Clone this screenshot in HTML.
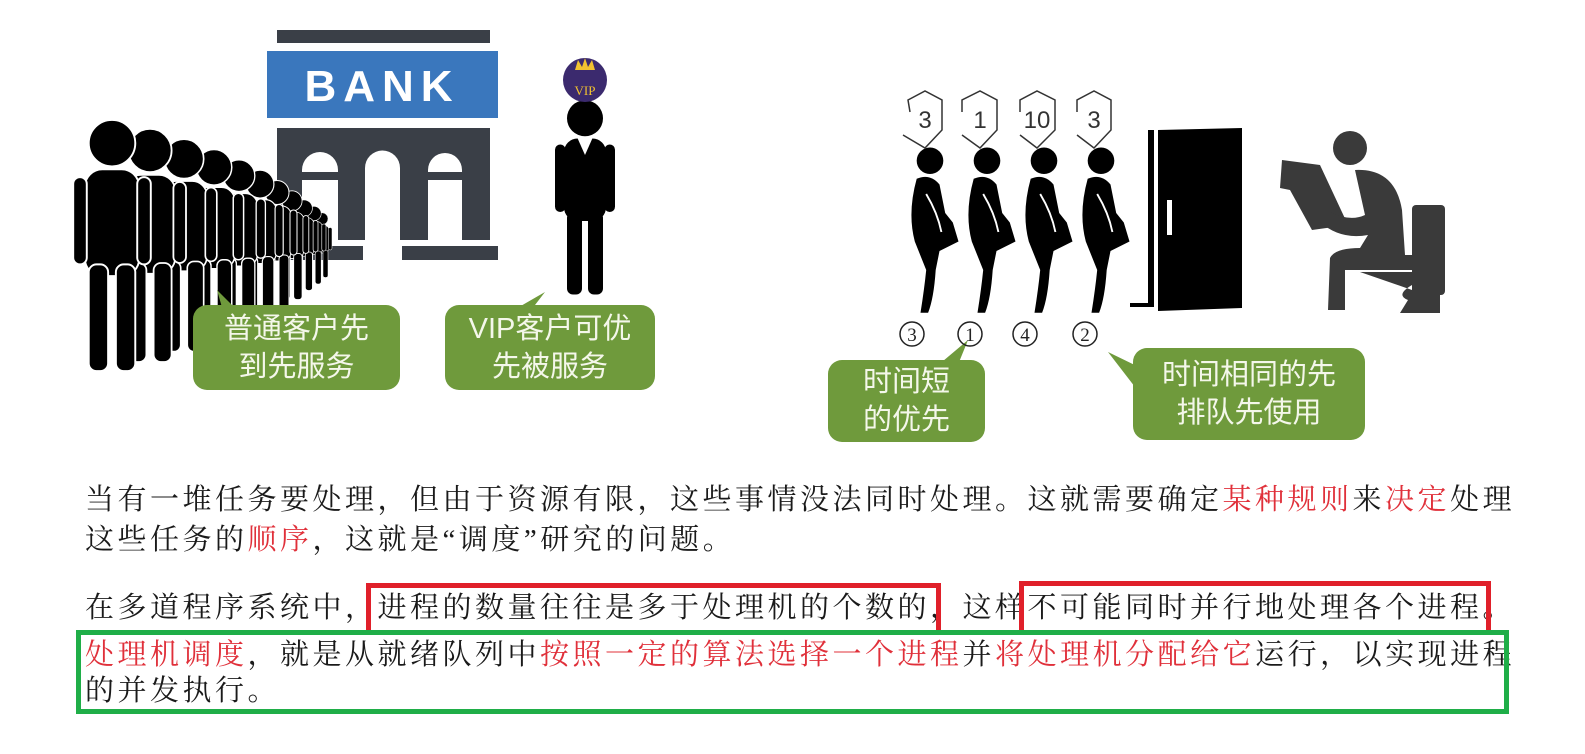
<!DOCTYPE html>
<html><head><meta charset="utf-8"><style>
body{margin:0;width:1585px;height:754px;background:#fff;overflow:hidden;position:relative;font-family:"Liberation Serif","Noto Serif CJK SC",serif}
.t{position:absolute;left:85px;font-size:29px;letter-spacing:3.5px;color:#1a1a1a;white-space:nowrap;line-height:34px}
.r{color:#e0303a}
.bub{position:absolute;background:#6f9a3c;border-radius:14px;color:#f4f7ea;font-family:"Liberation Sans","Noto Sans CJK SC",sans-serif;font-size:29px;line-height:38px;text-align:center;display:flex;align-items:center;justify-content:center}
.box{position:absolute;box-sizing:border-box}
</style></head><body>
<svg width="1585" height="460" style="position:absolute;left:0;top:0">
<defs>
<g id="p"><circle cx="0" cy="-105" r="24"/><rect x="-28" y="-78" width="56" height="110" rx="18"/><rect x="-40" y="-70" width="14" height="90" rx="7"/><rect x="26" y="-70" width="14" height="90" rx="7"/><rect x="-24" y="20" width="20" height="110" rx="8"/><rect x="4" y="20" width="20" height="110" rx="8"/></g>
<g id="w"><circle cx="0" cy="-75" r="14"/><path d="M-14 -56 Q0 -62 10 -50 L16 -20 L24 -10 L30 10 L10 20 L6 40 Q4 70 -2 85 L-10 85 Q-6 60 -4 40 L-16 10 Q-24 -20 -14 -56Z"/><path d="M-4 -40 Q8 -20 12 0" stroke="#fff" stroke-width="2" fill="none"/></g>
</defs>
<!-- bank -->
<rect x="277" y="30" width="213" height="13" fill="#3a3f47"/>
<rect x="267" y="51" width="231" height="67" fill="#3a77bd"/>
<text x="382" y="101" fill="#fff" font-family="Liberation Sans" font-weight="bold" font-size="44" letter-spacing="7" text-anchor="middle">BANK</text>
<rect x="277" y="128" width="213" height="112" fill="#3a3f47"/>
<path d="M302 172V170a18 18 0 0136 0V172Z M428 172V170a17 17 0 0134 0V172Z" fill="#fff"/>
<rect x="302" y="180" width="36" height="60" fill="#fff"/>
<rect x="428" y="180" width="34" height="60" fill="#fff"/>
<path d="M365 247V168a17.5 17.5 0 0135 0V247Z" fill="#fff"/>
<rect x="267" y="246" width="96" height="14" fill="#3a3f47"/>
<rect x="402" y="246" width="96" height="14" fill="#3a3f47"/>
<!-- queue -->
<g fill="#000" stroke="#fff" stroke-width="2">
<use href="#p" transform="translate(322,245) scale(0.25)"/>
<use href="#p" transform="translate(314,245) scale(0.3)"/>
<use href="#p" transform="translate(304,245) scale(0.35)"/>
<use href="#p" transform="translate(292,245) scale(0.42)"/>
<use href="#p" transform="translate(277,245) scale(0.5)"/>
<use href="#p" transform="translate(260,245) scale(0.58)"/>
<use href="#p" transform="translate(239,245) scale(0.66)"/>
<use href="#p" transform="translate(214,245) scale(0.74)"/>
<use href="#p" transform="translate(184,245) scale(0.82)"/>
<use href="#p" transform="translate(150,245) scale(0.9)"/>
<use href="#p" transform="translate(112,245) scale(0.97)"/>
</g>
<!-- vip -->
<g fill="#000"><use href="#p" transform="translate(585,197) scale(0.75)"/></g>
<path d="M577 137 L585 155 L593 137Z" fill="#fff"/>
<circle cx="585" cy="80" r="22" fill="#3b2a6e"/>
<path d="M575 70 L578 60 L582 67 L585 58 L588 67 L592 60 L595 70Z" fill="#f2c230"/>
<text x="585" y="95" fill="#f2c230" font-size="13" text-anchor="middle" font-family="Liberation Serif">VIP</text>
<!-- pointers -->
<path d="M217 290 L245 318 L225 318Z" fill="#6f9a3c"/>
<path d="M545 292 L500 318 L525 318Z" fill="#6f9a3c"/>
<path d="M968 340 L930 372 L955 372Z" fill="#6f9a3c"/>
<path d="M1108 352 L1145 400 L1145 370Z" fill="#6f9a3c"/>
<!-- walkers -->
<g fill="#000">
<use href="#w" transform="translate(930,232) scale(0.95)"/>
<use href="#w" transform="translate(987,232) scale(0.95)"/>
<use href="#w" transform="translate(1044,232) scale(0.95)"/>
<use href="#w" transform="translate(1101,232) scale(0.95)"/>
</g>
<g fill="none" stroke="#333" stroke-width="1.5">
<path d="M910 112 L908 100 L925 91 L942 100 L942 130 L925 148 L903 135"/>
<path d="M962 112 L962 100 L980 91 L997 100 L997 130 L980 148 L962 135"/>
<path d="M1020 112 L1020 100 L1037 91 L1055 100 L1055 130 L1037 148 L1020 135"/>
<path d="M1077 112 L1077 100 L1094 91 L1111 100 L1111 130 L1094 148 L1077 135"/>
</g>
<g font-family="Liberation Sans" font-size="24" fill="#333" text-anchor="middle">
<text x="925" y="128">3</text><text x="980" y="128">1</text><text x="1037" y="128">10</text><text x="1094" y="128">3</text>
</g>
<!-- door -->
<path d="M1130 303H1148V130H1154V307H1130Z" fill="#000"/>
<path d="M1158 130L1242 128V308L1158 311Z" fill="#000"/>
<rect x="1167" y="200" width="5" height="35" fill="#fff"/>
<!-- toilet person -->
<g fill="#3a3a3a">
<circle cx="1350" cy="148" r="17"/>
<path d="M1282 160 L1320 165 L1348 225 L1312 230 L1290 190 L1280 188Z"/>
<path d="M1355 170 Q1395 168 1402 210 L1405 255 L1412 255 L1412 270 L1345 270 L1345 310 L1328 310 L1330 258 Q1335 248 1360 248 L1368 235 Q1340 240 1320 222 L1330 212 Q1350 222 1365 215 Z"/>
<rect x="1412" y="205" width="33" height="90" rx="4"/>
<path d="M1360 272 H1412 V285 Q1395 295 1408 300 L1400 313 H1440 V290 H1412 Z"/>
</g>
<g fill="none" stroke="#222" stroke-width="1.5">
<circle cx="912" cy="334" r="12"/><circle cx="970" cy="334" r="12"/><circle cx="1025" cy="334" r="12"/><circle cx="1085" cy="334" r="12"/>
</g>
<g font-size="19" fill="#222" text-anchor="middle" font-family="Liberation Serif">
<text x="912" y="341">3</text><text x="970" y="341">1</text><text x="1025" y="341">4</text><text x="1085" y="341">2</text>
</g>
</svg>
<div class="bub" style="left:193px;top:305px;width:207px;height:85px">普通客户先<br>到先服务</div>
<div class="bub" style="left:445px;top:305px;width:210px;height:85px">VIP客户可优<br>先被服务</div>
<div class="bub" style="left:828px;top:360px;width:157px;height:82px">时间短<br>的优先</div>
<div class="bub" style="left:1133px;top:348px;width:232px;height:92px">时间相同的先<br>排队先使用</div>

<div class="t" style="top:483px">当有一堆任务要处理，但由于资源有限，这些事情没法同时处理。这就需要确定<span class="r">某种规则</span>来<span class="r">决定</span>处理</div>
<div class="t" style="top:523px">这些任务的<span class="r">顺序</span>，这就是“调度”研究的问题。</div>
<div class="t" style="top:591px">在多道程序系统中，进程的数量往往是多于处理机的个数的，这样不可能同时并行地处理各个进程。</div>
<div class="t" style="top:638px"><span class="r">处理机调度</span>，就是从就绪队列中<span class="r">按照一定的算法选择一个进程</span>并<span class="r">将处理机分配给它</span>运行，以实现进程</div>
<div class="t" style="top:674px">的并发执行。</div>
<div class="box" style="left:366px;top:583px;width:575px;height:49px;border:5px solid #e0202a;border-bottom:none"></div>
<div class="box" style="left:1019px;top:581px;width:472px;height:51px;border:5px solid #e0202a;border-bottom:none"></div>
<div class="box" style="left:76px;top:630px;width:1433px;height:84px;border:5px solid #1fae48"></div>
</body></html>
